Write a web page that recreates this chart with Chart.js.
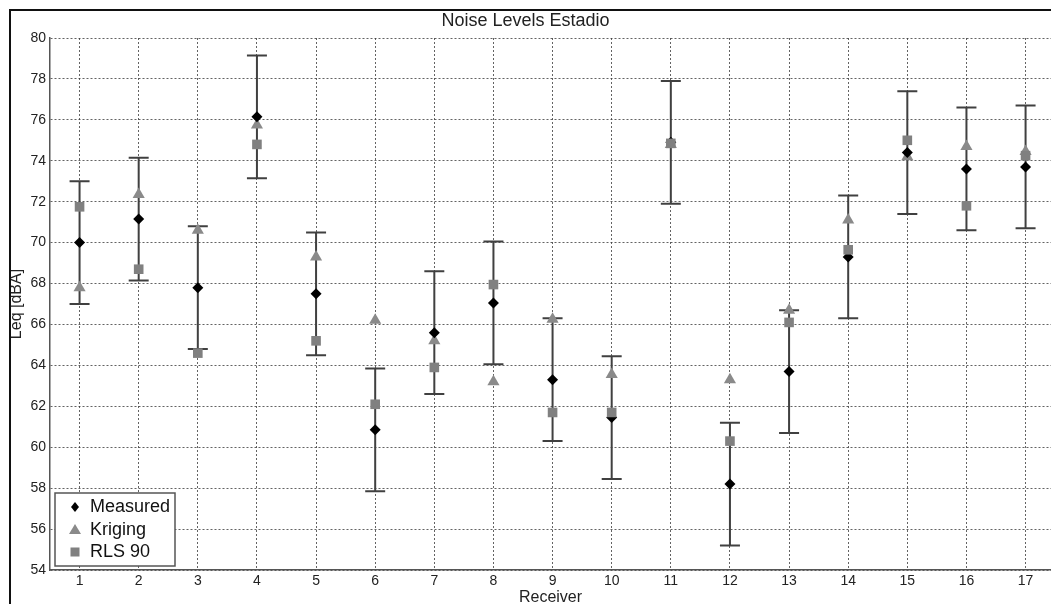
<!DOCTYPE html>
<html>

<head>
    <title>Noise Levels Estadio</title>
    <script src="https://cdn.jsdelivr.net/npm/chart.js@4/dist/chart.umd.min.js"></script>
    <style>
        body { margin: 0; background: #fff; }
    </style>
</head>

<body>
    <div style="width: 1051px; height: 604px;">
        <canvas id="ctx"></canvas>
    </div>

    <script>
        // values
        const receivers = [1, 2, 3, 4, 5, 6, 7, 8, 9, 10, 11, 12, 13, 14, 15, 16, 17];
        const measured = [70.0, 71.15, 67.8, 76.15, 67.5, 60.85, 65.6, 67.05, 63.3, 61.45, 74.9, 58.2, 63.7, 69.3, 74.4, 73.6, 73.7];
        const kriging = [67.8, 72.35, 70.6, 75.75, 69.3, 66.2, 65.2, 63.2, 66.25, 63.55, 74.8, 63.3, 66.7, 71.1, 74.2, 74.7, 74.45];
        const rls90 = [71.75, 68.7, 64.6, 74.8, 65.2, 62.1, 63.9, 67.95, 61.7, 61.7, 74.85, 60.3, 66.1, 69.65, 75.0, 71.8, 74.25];
        const measuredError = 3; // dB, +/- around measured
        const yTicks = [54, 56, 58, 60, 62, 64, 66, 68, 70, 72, 74, 76, 78, 80];

        const font = '"Liberation Sans", Arial, sans-serif';

        const pts = arr => arr.map((v, i) => ({x: receivers[i], y: v}));

        // vertical bars with caps, under the markers
        const errorBars = {
            id: 'errorBars',
            beforeDatasetsDraw(chart) {
                const {ctx, scales: {x, y}} = chart;
                ctx.save();
                ctx.strokeStyle = '#404040';
                ctx.lineWidth = 2;
                receivers.forEach((r, i) => {
                    const px = x.getPixelForValue(r);
                    const top = y.getPixelForValue(measured[i] + measuredError);
                    const bot = y.getPixelForValue(measured[i] - measuredError);
                    ctx.beginPath();
                    ctx.moveTo(px, top); ctx.lineTo(px, bot);
                    ctx.moveTo(px - 10, top); ctx.lineTo(px + 10, top);
                    ctx.moveTo(px - 10, bot); ctx.lineTo(px + 10, bot);
                    ctx.stroke();
                });
                ctx.restore();
            }
        };

        // outer frame + legend box inside the plot (bottom left)
        const decor = {
            id: 'decor',
            afterDraw(chart) {
                const {ctx, chartArea: ca} = chart;
                ctx.save();
                ctx.strokeStyle = '#111';
                ctx.lineWidth = 2;
                ctx.strokeRect(10, 10, chart.width + 20, chart.height + 20);

                const bx = ca.left + 5, bh = 73, by = ca.bottom - 4 - bh, bw = 120;
                ctx.fillStyle = '#fff';
                ctx.fillRect(bx, by, bw, bh);
                ctx.strokeStyle = '#555';
                ctx.lineWidth = 1.5;
                ctx.strokeRect(bx, by, bw, bh);

                const mx = bx + 20;
                const rows = [by + 14, by + 37, by + 59];
                // diamond
                ctx.fillStyle = '#000';
                ctx.beginPath();
                ctx.moveTo(mx, rows[0] - 5); ctx.lineTo(mx + 4, rows[0]);
                ctx.lineTo(mx, rows[0] + 5); ctx.lineTo(mx - 4, rows[0]);
                ctx.closePath(); ctx.fill();
                // triangle
                ctx.fillStyle = '#8a8a8a';
                ctx.beginPath();
                ctx.moveTo(mx, rows[1] - 6); ctx.lineTo(mx + 6, rows[1] + 4);
                ctx.lineTo(mx - 6, rows[1] + 4);
                ctx.closePath(); ctx.fill();
                // square
                ctx.fillStyle = '#808080';
                ctx.fillRect(mx - 4.5, rows[2] - 4.5, 9, 9);

                ctx.fillStyle = '#111';
                ctx.font = '18px ' + font;
                ctx.textBaseline = 'middle';
                ctx.fillText('Measured', bx + 35, rows[0]);
                ctx.fillText('Kriging', bx + 35, rows[1]);
                ctx.fillText('RLS 90', bx + 35, rows[2]);
                ctx.restore();
            }
        };

        const chart = new Chart(document.getElementById('ctx'), {
            type: 'scatter',
            data: {
                datasets: [
                    {
                        label: 'RLS 90',
                        data: pts(rls90),
                        pointStyle: 'rect',
                        radius: 6.8,
                        backgroundColor: '#808080',
                        borderWidth: 0,
                        order: 1
                    },
                    {
                        label: 'Measured',
                        data: pts(measured),
                        pointStyle: 'rectRot',
                        radius: 5.5,
                        backgroundColor: '#000',
                        borderWidth: 0,
                        order: 2
                    },
                    {
                        label: 'Kriging',
                        data: pts(kriging),
                        pointStyle: 'triangle',
                        radius: 7,
                        backgroundColor: '#8a8a8a',
                        borderWidth: 0,
                        order: 3
                    }
                ]
            },
            options: {
                responsive: true,
                maintainAspectRatio: false,
                animation: false,
                layout: { padding: 0, autoPadding: false },
                plugins: {
                    legend: { display: false },
                    tooltip: { enabled: false },
                    title: {
                        display: true,
                        text: 'Noise Levels Estadio',
                        color: '#222',
                        font: { family: font, size: 18, weight: 'normal' },
                        padding: { top: 10, bottom: 6.4 }
                    }
                },
                scales: {
                    x: {
                        type: 'linear',
                        min: 0.5,
                        max: 17.43,
                        afterBuildTicks: s => { s.ticks = receivers.map(v => ({value: v})); },
                        afterFit: s => { s.height = 34; s.paddingLeft = 0; s.paddingRight = 0; },
                        grid: { color: 'rgba(60,60,60,0.8)', lineWidth: 1, drawTicks: false },
                        border: { color: '#555', width: 1.5, dash: [2, 2] },
                        ticks: {
                            color: '#222',
                            padding: 3,
                            maxRotation: 0,
                            font: { family: font, size: 14 }
                        },
                        title: {
                            display: true,
                            text: 'Receiver',
                            color: '#222',
                            font: { family: font, size: 16, lineHeight: 1 },
                            padding: { top: 0, bottom: -2 }
                        }
                    },
                    y: {
                        min: 54,
                        max: 80,
                        afterBuildTicks: s => { s.ticks = yTicks.map(v => ({value: v})); },
                        afterFit: s => { s.width = 50; },
                        grid: { color: 'rgba(60,60,60,0.8)', lineWidth: 1, drawTicks: false },
                        border: { color: '#555', width: 1.5, dash: [2, 2] },
                        ticks: {
                            color: '#222',
                            padding: 4,
                            font: { family: font, size: 14 }
                        },
                        title: {
                            display: true,
                            text: 'Leq [dBA]',
                            color: '#222',
                            font: { family: font, size: 16, lineHeight: 1 },
                            padding: { top: 9, bottom: 0 }
                        }
                    }
                }
            },
            plugins: [errorBars, decor]
        });
    </script>
</body>

</html>
